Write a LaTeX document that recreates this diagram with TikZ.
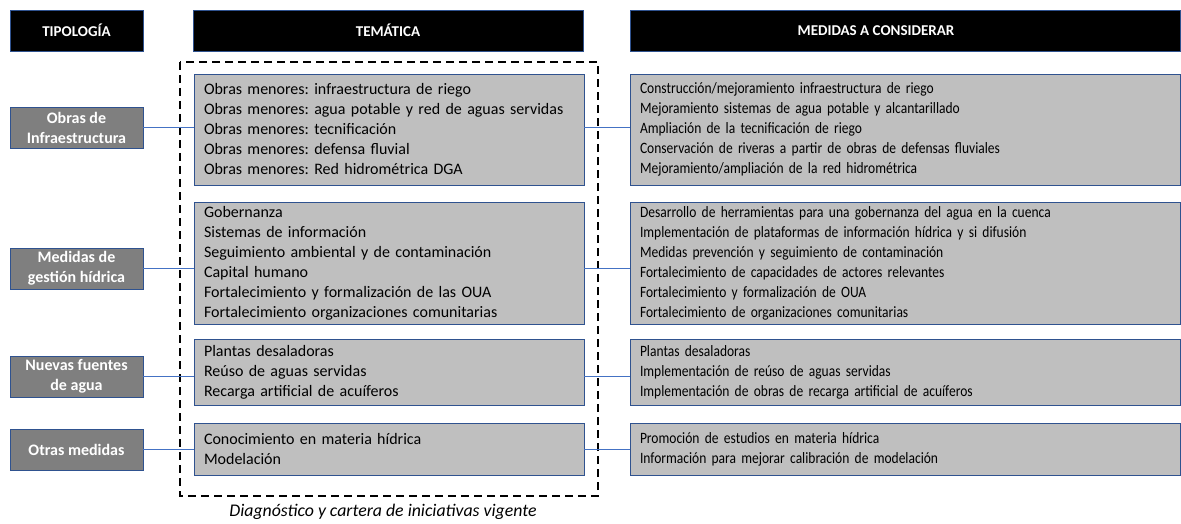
\documentclass[tikz,border=0pt]{standalone}
\usepackage{fontspec}
\setmainfont{Carlito}
\newfontfamily\estrecha[FakeStretch=0.855]{Carlito}
\usetikzlibrary{positioning}
\frenchspacing

\definecolor{bordeazul}{HTML}{2F528F}
\definecolor{lineaazul}{HTML}{4472C4}
\definecolor{grisoscuro}{HTML}{7F7F7F}
\definecolor{grisclaro}{HTML}{BFBFBF}

\tikzset{
  cabecera/.style={draw=bordeazul, fill=black, text=white, inner sep=0pt,
    minimum height=41pt, font=\fontsize{15}{18}\selectfont\bfseries},
  tipo/.style={draw=bordeazul, fill=grisoscuro, text=white, align=center, inner sep=0pt,
    minimum width=133pt, minimum height=41pt, font=\fontsize{16}{20}\selectfont\bfseries},
  lista/.style={draw=bordeazul, fill=grisclaro, align=left, inner xsep=10pt, inner ysep=0pt},
  tematica/.style={lista, text width=370pt, font=\fontsize{16}{20}\selectfont},
  medida/.style={lista, text width=530pt, font=\estrecha\fontsize{15.8}{20}\selectfont},
  enlace/.style={draw=lineaazul, line width=1pt},
  marco/.style={draw=black, line width=2.2pt, dash pattern=on 8pt off 5pt}
}

\begin{document}
\begin{tikzpicture}[x=1pt,y=-1pt]
  \useasboundingbox (0,0) rectangle (1181,524);

  % Marco de la cartera vigente
  \draw[marco] (180,62) rectangle (598,496);
  \node[font=\fontsize{17.8}{20}\selectfont\itshape] (pie) at (383,512)
    {Diagnóstico y cartera de iniciativas vigente};

  % Cabeceras
  \node[cabecera, minimum width=133pt] (hTipo) at (76.5,30.5) {TIPOLOGÍA};
  \node[cabecera, minimum width=390pt] (hTema) at (388,30.5) {TEMÁTICA};
  \node[cabecera, minimum width=550pt] (hMedida) at (905,30.5) {};
  \node[cabecera, draw=none, fill=none, minimum height=0pt] (hMedidaTxt)
    at ([xshift=-29pt]hMedida.center) {MEDIDAS A CONSIDERAR};

  % Tipologias
  \node[tipo] (t1) at (76.5,127.5) {Obras de\\Infraestructura};
  \node[tipo] (t2) at (76.5,268.5) {Medidas de\\gestión hídrica};
  \node[tipo] (t3) at (76.5,376.5) {Nuevas fuentes\\de agua};
  \node[tipo] (t4) at (76.5,449.5) {Otras medidas};

  % Tematicas
  \node[tematica, minimum height=111pt] (e1) at (389,129.5) {Obras menores: infraestructura de riego\\
    Obras menores: agua potable y red de aguas servidas\\
    Obras menores: tecnificación\\
    Obras menores: defensa fluvial\\
    Obras menores: Red hidrométrica DGA};
  \node[tematica, minimum height=122pt] (e2) at (389,263) {Gobernanza\\
    Sistemas de información\\
    Seguimiento ambiental y de contaminación\\
    Capital humano\\
    Fortalecimiento y formalización de las OUA\\
    Fortalecimiento organizaciones comunitarias};
  \node[tematica, minimum height=66pt] (e3) at (389,372) {Plantas desaladoras\\
    Reúso de aguas servidas\\
    Recarga artificial de acuíferos};
  \node[tematica, minimum height=52pt] (e4) at (389,449) {Conocimiento en materia hídrica\\
    Modelación};

  % Medidas
  \node[medida, minimum height=111pt] (m1) at (905,129.5) {Construcción/mejoramiento infraestructura de riego\\
    Mejoramiento sistemas de agua potable y alcantarillado\\
    Ampliación de la tecnificación de riego\\
    Conservación de riveras a partir de obras de defensas fluviales\\
    Mejoramiento/ampliación de la red hidrométrica};
  \node[medida, minimum height=122pt] (m2) at (905,263) {Desarrollo de herramientas para una gobernanza del agua en la cuenca\\
    Implementación de plataformas de información hídrica y si difusión\\
    Medidas prevención y seguimiento de contaminación\\
    Fortalecimiento de capacidades de actores relevantes\\
    Fortalecimiento y formalización de OUA\\
    Fortalecimiento de organizaciones comunitarias};
  \node[medida, minimum height=66pt] (m3) at (905,372) {Plantas desaladoras\\
    Implementación de reúso de aguas servidas\\
    Implementación de obras de recarga artificial de acuíferos};
  \node[medida, minimum height=52pt] (m4) at (905,449) {Promoción de estudios en materia hídrica\\
    Información para mejorar calibración de modelación};

  % Enlaces
  \foreach \i in {1,...,4} {
    \draw[enlace] (t\i.east) -- (t\i.east -| e\i.west);
    \draw[enlace] (t\i.east -| e\i.east) -- (t\i.east -| m\i.west);
  }
\end{tikzpicture}
\end{document}
